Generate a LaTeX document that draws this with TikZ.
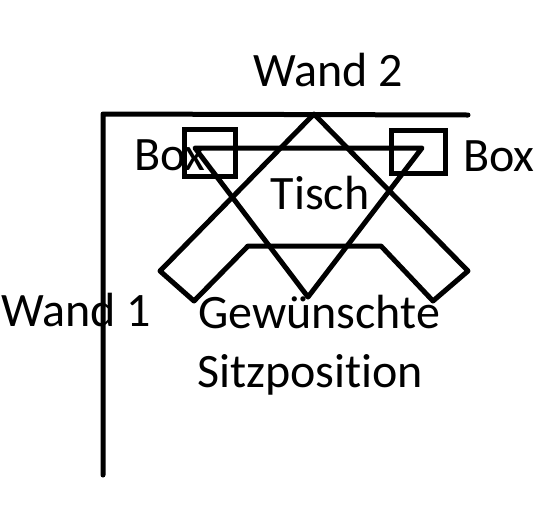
\documentclass[tikz,border=0pt]{standalone}
\usepackage{fontspec}
\setmainfont[Ligatures=NoCommon]{Carlito}
\tikzset{
  wall/.style={line width=5pt,line join=round,line cap=round},
  boxframe/.style={line width=5pt,line join=miter},
  label/.style={inner sep=0pt,font=\fontsize{48}{48}\selectfont},
}

\begin{document}
\begin{tikzpicture}[x=1pt,y=-1pt]
  \useasboundingbox (0,0) rectangle (550,531);
  \draw[wall] (103,475) -- (103,114) -- (468,115);
  \draw[wall] (314,114) -- (160,271) -- (194,301) -- (248,246) -- (381,246) -- (433,301) -- (468,271) -- cycle;
  \draw[wall] (195,148) -- (422,148) -- (308,297) -- cycle;
  \draw[boxframe] (184,129) rectangle (235,176);
  \draw[boxframe] (391,130) rectangle (445,173);
  \node[label] (wand2) at (328,70) {Wand 2};
  \node[label] (wand1) at (76,310) {Wand 1};
  \node[label] (tisch) at (320,193) {Tisch};
  \node[label] (boxl) at (170,155) {Box};
  \node[label] (boxr) at (499,156) {Box};
  \node[label,anchor=base west] (gewuenscht) at (198,328) {Gewünschte};
  \node[label,anchor=base west] (sitz) at (197,387) {Sitzposition};
\end{tikzpicture}
\end{document}
